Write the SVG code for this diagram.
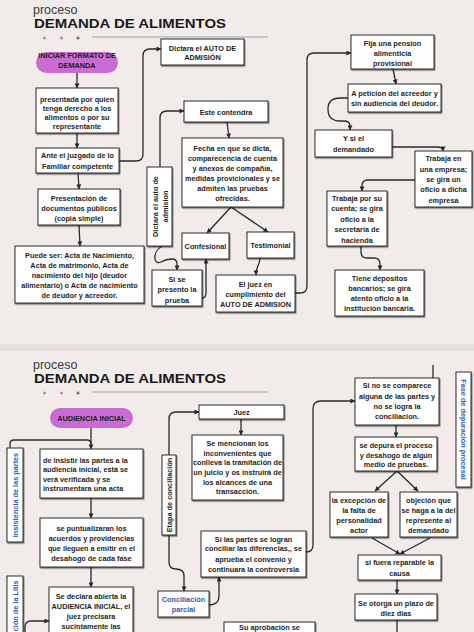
<svg xmlns="http://www.w3.org/2000/svg" width="474" height="632" viewBox="0 0 474 632">
<defs>
<style>
.bg{fill:#f1ece9}
.box{fill:#ffffff;stroke:#2a2a2a;stroke-width:1;filter:url(#sh)}
.vbox{fill:#ffffff;stroke:#2a2a2a;stroke-width:1;filter:url(#sh)}
.pill{fill:#c86bd3}
.t{font-family:"Liberation Sans",Arial,sans-serif;font-weight:bold;font-size:7.3px;fill:#1e1e1e;text-anchor:middle}
.tl{text-anchor:start}
.blue{fill:#2c5cb5}
.h1{font-family:"Liberation Sans",Arial,sans-serif;font-size:12.5px;fill:#3a3a3a}
.h2{font-family:"Liberation Sans",Arial,sans-serif;font-weight:bold;font-size:13px;fill:#1a1a1a}
.c{fill:none;stroke:#2a2a2a;stroke-width:1.3}
.a{marker-end:url(#ar)}
.rule{stroke:#9aa8b0;stroke-width:1}
</style>
<marker id="ar" viewBox="0 0 6 6" refX="5.5" refY="3" markerWidth="5" markerHeight="5" markerUnits="userSpaceOnUse" orient="auto">
<path d="M0,0 L6,3 L0,6 z" fill="#2a2a2a"/>
</marker>
<filter id="sh" x="-10%" y="-10%" width="130%" height="140%">
<feDropShadow dx="0.8" dy="1.2" stdDeviation="0.5" flood-color="#000" flood-opacity="0.55"/>
</filter>
</defs>

<rect class="bg" x="0" y="0" width="474" height="344"/>
<rect x="0" y="344" width="474" height="7" fill="#e4e2e0"/>
<rect class="bg" x="0" y="351" width="474" height="281"/>

<g id="header-top">
<text class="h1" x="33" y="13.5">proceso</text>
<text class="h2" x="34" y="27.5" textLength="192" lengthAdjust="spacingAndGlyphs">DEMANDA DE ALIMENTOS</text>
<circle cx="44.5" cy="38" r="1.6" fill="#d27fce"/>
<circle cx="61.5" cy="38" r="1.6" fill="#d27fce"/>
<circle cx="78" cy="38" r="1.6" fill="#6c7a80"/>
<line class="rule" x1="92" y1="37" x2="268" y2="37"/>
</g>

<g id="header-bottom">
<text class="h1" x="33" y="368.5">proceso</text>
<text class="h2" x="34" y="382.5" textLength="192" lengthAdjust="spacingAndGlyphs">DEMANDA DE ALIMENTOS</text>
<circle cx="44.5" cy="393" r="1.6" fill="#d27fce"/>
<circle cx="61.5" cy="393" r="1.6" fill="#d27fce"/>
<circle cx="78" cy="393" r="1.6" fill="#6c7a80"/>
<line class="rule" x1="92" y1="392" x2="268" y2="392"/>
</g>

<g id="connectors">
<path class="c a" d="M77,73 V88"/>
<path class="c a" d="M77,133 V148"/>
<path class="c a" d="M78,173 L79,189"/>
<path class="c a" d="M79,225 L80,246"/>
<path class="c a" d="M119,161 H136 Q143,161 143,154 V56 Q143,49 150,49 H161"/>
<path class="c a" d="M160,167 V118 Q160,111 167,111 H184"/>
<path class="c a" d="M227,122 L229,138"/>
<path class="c a" d="M231,207 L207,233"/>
<path class="c a" d="M231,207 L268,232"/>
<path class="c a" d="M163,246 C152,250 153,266 161,262 Q166,259 172,259 Q177,259 177,264 V270"/>
<path class="c a" d="M202,298 Q206,298 206,293 V259"/>
<path class="c a" d="M260,258 C259,269 256,264 256,275"/>
<path class="c a" d="M295,293 H300 Q307,293 307,286 V60 Q307,53 314,53 H351"/>
<path class="c a" d="M393,69 L396,84"/>
<path class="c a" d="M348,98 H340 Q328,98 328,109 Q328,121 340,121 H344 Q350,121 350,126 V130"/>
<path class="c a" d="M392,147 H437 Q443,147 443,151"/>
<path class="c a" d="M415,180 H368 Q362,180 362,186 V191"/>
<path class="c a" d="M361,246 V252 Q361,258 367,258 H374 Q380,258 380,264 V270"/>

<path class="c a" d="M91,428 V449"/>
<path class="c" d="M10,448 V444 Q10,440 14,440 H87 Q91,440 91,444"/>
<path class="c a" d="M91,498 V518"/>
<path class="c a" d="M91,567 V587"/>
<path class="c a" d="M25,632 V627 Q25,621 31,621 H49"/>
<path class="c a" d="M169,455 V419 Q169,412 176,412 H199"/>
<path class="c a" d="M241,419 V435"/>
<path class="c a" d="M169,535 V562 Q169,569 176,569 Q184,569 184,576 V591"/>
<path class="c a" d="M209,605 Q219,605 219,596 V577"/>
<path class="c a" d="M306,552 Q313,552 313,545 V409 Q313,401 321,401 H355"/>
<path class="c" d="M433,365 V378"/>
<path class="c a" d="M396,425 V437"/>
<path class="c a" d="M397,471 L375,491"/>
<path class="c a" d="M397,471 L418,491"/>
<path class="c a" d="M372,538 L400,554"/>
<path class="c a" d="M430,538 L400,554"/>
<path class="c a" d="M397,580 V594"/>
<path class="c" d="M397,620 V632"/>
</g>

<g id="n-iniciar">
<rect class="pill" x="36" y="52" width="82" height="21" rx="10.5"/>
<text class="t" fill="#3a223a"><tspan x="77" y="58.3">INICIAR FORMATO DE</tspan><tspan x="77" y="68.3">DEMANDA</tspan></text>
</g>
<g id="n-presentada">
<rect class="box" x="36" y="88" width="82" height="45"/>
<text class="t"><tspan x="77" y="102">presentada por quien</tspan><tspan x="77" y="111">tenga derecho a los</tspan><tspan x="77" y="120">alimentos o por su</tspan><tspan x="77" y="129">representante</tspan></text>
</g>
<g id="n-ante">
<rect class="box" x="36" y="148" width="83" height="25"/>
<text class="t"><tspan x="77.5" y="158.3">Ante el juzgado de lo</tspan><tspan x="77.5" y="168.6">Familiar competente</tspan></text>
</g>
<g id="n-dictara">
<rect class="box" x="161" y="39" width="83" height="26"/>
<text class="t"><tspan x="202.5" y="50.8">Dictara el AUTO DE</tspan><tspan x="202.5" y="60.3">ADMISIÓN</tspan></text>
</g>
<g id="n-presentacion">
<rect class="box" x="38" y="189" width="82" height="36"/>
<text class="t"><tspan x="79" y="201">Presentación de</tspan><tspan x="79" y="211">documentos públicos</tspan><tspan x="79" y="221">(copia simple)</tspan></text>
</g>
<g id="n-puede">
<rect class="box" x="15" y="246" width="129" height="57"/>
<text class="t"><tspan x="79.5" y="257.6">Puede ser: Acta de Nacimiento,</tspan><tspan x="79.5" y="267.8">Acta de matrimonio, Acta de</tspan><tspan x="79.5" y="278">nacimiento del hijo (deudor</tspan><tspan x="79.5" y="288.3">alimentario) o Acta de nacimiento</tspan><tspan x="79.5" y="298.4">de deudor y acreedor.</tspan></text>
</g>
<g id="n-dictara-v">
<rect class="vbox" x="147" y="167" width="25" height="79"/>
<text class="t" transform="translate(157.6,206.5) rotate(-90)"><tspan x="0" y="0">Dictara el auto de</tspan><tspan x="0" y="10">admision</tspan></text>
</g>
<g id="n-este">
<rect class="box" x="184" y="101" width="84" height="21"/>
<text class="t" x="226" y="114.5">Este contendra</text>
</g>
<g id="n-fecha">
<rect class="box" x="182" y="138" width="101" height="69"/>
<text class="t"><tspan x="232.5" y="150.9">Fecha en que se dicta,</tspan><tspan x="232.5" y="160.9">comparecencia de cuenta</tspan><tspan x="232.5" y="170.9">y anexos de compañía,</tspan><tspan x="232.5" y="180.9">medidas provicionales y se</tspan><tspan x="232.5" y="190.9">admiten las pruebas</tspan><tspan x="232.5" y="200.9">ofrecidas.</tspan></text>
</g>
<g id="n-confesional">
<rect class="box" x="182" y="233" width="47" height="26"/>
<text class="t" x="205.5" y="248.6">Confesional</text>
</g>
<g id="n-testimonial">
<rect class="box" x="247" y="232" width="47" height="26"/>
<text class="t" x="270.5" y="247.6">Testimonial</text>
</g>
<g id="n-sise">
<rect class="box" x="152" y="270" width="50" height="36"/>
<text class="t"><tspan x="177" y="281.6">Si se</tspan><tspan x="177" y="292">presento la</tspan><tspan x="177" y="302.5">prueba</tspan></text>
</g>
<g id="n-juez-auto">
<rect class="box" x="216" y="275" width="79" height="37"/>
<text class="t"><tspan x="255.5" y="286.6">El juez en</tspan><tspan x="255.5" y="296.6">cumplimiento del</tspan><tspan x="255.5" y="306.6">AUTO DE ADMISION</tspan></text>
</g>
<g id="n-fija">
<rect class="box" x="351" y="35" width="83" height="34"/>
<text class="t"><tspan x="392.5" y="46">Fija una pension</tspan><tspan x="392.5" y="56">alimenticia</tspan><tspan x="392.5" y="66">provisional</tspan></text>
</g>
<g id="n-peticion">
<rect class="box" x="348" y="84" width="93" height="28"/>
<text class="t"><tspan x="394.5" y="96">A peticion del acreedor y</tspan><tspan x="394.5" y="106">sin audiencia del deudor.</tspan></text>
</g>
<g id="n-ysiel">
<rect class="box" x="315" y="130" width="77" height="27"/>
<text class="t"><tspan x="353.5" y="141">Y si el</tspan><tspan x="353.5" y="152">demandado</tspan></text>
</g>
<g id="n-empresa">
<rect class="box" x="415" y="151" width="57" height="56"/>
<text class="t"><tspan x="443.5" y="161">Trabaja en</tspan><tspan x="443.5" y="171.5">una empresa;</tspan><tspan x="443.5" y="182">se gira un</tspan><tspan x="443.5" y="192">oficio a dicha</tspan><tspan x="443.5" y="202.5">empresa</tspan></text>
</g>
<g id="n-cuenta">
<rect class="box" x="327" y="191" width="60" height="55"/>
<text class="t"><tspan x="357" y="200.5">Trabaja por su</tspan><tspan x="357" y="211">cuenta; se gira</tspan><tspan x="357" y="221.5">oficio a la</tspan><tspan x="357" y="232">secretaria de</tspan><tspan x="357" y="242.5">hacienda</tspan></text>
</g>
<g id="n-depositos">
<rect class="box" x="335" y="270" width="89" height="46"/>
<text class="t"><tspan x="379.5" y="281">Tiene depositos</tspan><tspan x="379.5" y="291">bancarios; se gira</tspan><tspan x="379.5" y="301">atento oficio a la</tspan><tspan x="379.5" y="311">institucion bancaria.</tspan></text>
</g>

<g id="n-audiencia">
<rect class="pill" x="50" y="408" width="83" height="20" rx="10"/>
<text class="t" x="91.5" y="420.6" fill="#3a223a">AUDIENCIA INICIAL</text>
</g>
<g id="n-insistencia">
<rect class="vbox" x="7" y="448" width="16" height="94"/>
<text class="t blue" transform="translate(17.6,495) rotate(-90)" x="0" y="0">Insistencia de las partes</text>
</g>
<g id="n-insistir">
<rect class="box" x="40" y="449" width="103" height="49"/>
<text class="t tl"><tspan x="43" y="462.5">de insistir las partes a la</tspan><tspan x="43" y="472">audiencia inicial, está se</tspan><tspan x="43" y="481.5">verá verificada y se</tspan><tspan x="43" y="491">instrumentara una acta</tspan></text>
</g>
<g id="n-puntualizaran">
<rect class="box" x="40" y="518" width="103" height="49"/>
<text class="t"><tspan x="91.5" y="531">se puntualizaran los</tspan><tspan x="91.5" y="541">acuerdos y providencias</tspan><tspan x="91.5" y="551">que lleguen a emitir en el</tspan><tspan x="91.5" y="561">desahogo de cada fase</tspan></text>
</g>
<g id="n-litis">
<rect class="vbox" x="7" y="576" width="16" height="70"/>
<text class="t blue" transform="translate(17.6,580.5) rotate(-90)" x="0" y="0" style="text-anchor:end">ción de la Litis</text>
</g>
<g id="n-abierta">
<rect class="box" x="49" y="587" width="84" height="60"/>
<text class="t"><tspan x="91" y="598.6">Se declara abierta la</tspan><tspan x="91" y="609">AUDIENCIA INICIAL, el</tspan><tspan x="91" y="619.3">juez precisara</tspan><tspan x="91" y="629.3">sucintamente las</tspan></text>
</g>
<g id="n-juez">
<rect class="box" x="199" y="405" width="85" height="14"/>
<text class="t" x="241.5" y="414.6">Juez</text>
</g>
<g id="n-mencionan">
<rect class="box" x="192" y="435" width="91" height="65"/>
<text class="t"><tspan x="237.5" y="446">Se mencionan los</tspan><tspan x="237.5" y="455.7">inconvenientes que</tspan><tspan x="237.5" y="465.4">conlleva la tramitación de</tspan><tspan x="237.5" y="475">un juicio y os instruirá de</tspan><tspan x="237.5" y="484.7">los alcances de una</tspan><tspan x="237.5" y="494.4">transacción.</tspan></text>
</g>
<g id="n-etapa">
<rect class="vbox" x="162" y="455" width="14" height="80"/>
<text class="t" transform="translate(171.6,495) rotate(-90)" x="0" y="0">Etapa de conciliación</text>
</g>
<g id="n-parcial">
<rect class="box" x="158" y="591" width="51" height="26"/>
<text class="t blue"><tspan x="183.5" y="602">Conciliación</tspan><tspan x="183.5" y="611.6">parcial</tspan></text>
</g>
<g id="n-silas">
<rect class="box" x="201" y="531" width="105" height="46"/>
<text class="t"><tspan x="253.5" y="541.6">Si las partes se logran</tspan><tspan x="253.5" y="551">conciliar las diferencias,, se</tspan><tspan x="253.5" y="562">aprueba el convenio y</tspan><tspan x="253.5" y="572">continuara la controversia</tspan></text>
</g>
<g id="n-aprobacion">
<rect class="box" x="224" y="622" width="91" height="24"/>
<text class="t" x="269.5" y="629.8">Su aprobación se</text>
</g>
<g id="n-sino">
<rect class="box" x="355" y="378" width="84" height="47"/>
<text class="t"><tspan x="397" y="388.3">Si no se comparece</tspan><tspan x="397" y="398.6">alguna de las partes y</tspan><tspan x="397" y="409.3">no se logra la</tspan><tspan x="397" y="419.3">conciliacion.</tspan></text>
</g>
<g id="n-depura">
<rect class="box" x="355" y="437" width="82" height="34"/>
<text class="t"><tspan x="396" y="447.8">se depura el proceso</tspan><tspan x="396" y="457.6">y desahogo de algún</tspan><tspan x="396" y="467.2">medio de pruebas.</tspan></text>
</g>
<g id="n-excepcion">
<rect class="box" x="330" y="492" width="58" height="45"/>
<text class="t"><tspan x="359" y="502.6">la excepción de</tspan><tspan x="359" y="512.6">la falta de</tspan><tspan x="359" y="522.6">personalidad</tspan><tspan x="359" y="533">actor</tspan></text>
</g>
<g id="n-objecion">
<rect class="box" x="400" y="492" width="57" height="45"/>
<text class="t"><tspan x="428.5" y="502.6">objeción que</tspan><tspan x="428.5" y="512.6">se haga a la del</tspan><tspan x="428.5" y="522.6">represente al</tspan><tspan x="428.5" y="533">demandado</tspan></text>
</g>
<g id="n-reparable">
<rect class="box" x="358" y="555" width="83" height="25"/>
<text class="t"><tspan x="399.5" y="565.3">si fuera reparable la</tspan><tspan x="399.5" y="576">causa</tspan></text>
</g>
<g id="n-plazo">
<rect class="box" x="355" y="594" width="82" height="26"/>
<text class="t"><tspan x="396" y="606">Se otorga un plazo de</tspan><tspan x="396" y="616">diez dias</tspan></text>
</g>
<g id="n-fase">
<rect class="vbox" x="456" y="372" width="15" height="115"/>
<text class="t blue" transform="translate(460.8,429.5) rotate(90)" x="0" y="0">Fase de depuración procesal</text>
</g>
</svg>
